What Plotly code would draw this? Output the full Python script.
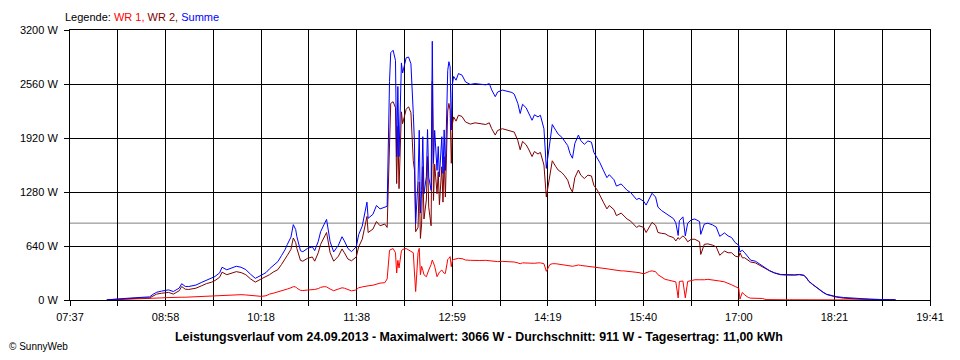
import plotly.graph_objects as go

# ---- data ----
TIMES = [
    "08:08", "08:14", "08:25", "08:31", "08:37", "08:44", "08:47", "08:50", "08:54", "08:58",
    "09:00", "09:04", "09:09", "09:11", "09:14", "09:17", "09:23", "09:28", "09:32", "09:36",
    "09:39", "09:43", "09:45", "09:49", "09:53", "09:57", "10:01", "10:05", "10:09", "10:13",
    "10:18", "10:22", "10:25", "10:28", "10:32", "10:35", "10:38", "10:40", "10:43", "10:45",
    "10:47", "10:48", "10:51", "10:53", "10:57", "11:01", "11:03", "11:06", "11:08", "11:11",
    "11:13", "11:16", "11:19", "11:23", "11:26", "11:28", "11:31", "11:34", "11:38", "11:40",
    "11:43", "11:47", "11:48", "11:52", "11:55", "11:58", "12:02", "12:04", "12:06", "12:07",
    "12:09", "12:11", "12:12", "12:13", "12:14", "12:16", "12:17", "12:20", "12:22", "12:24",
    "12:26", "12:27", "12:28", "12:30", "12:31", "12:32", "12:33", "12:34", "12:35", "12:37",
    "12:38", "12:39", "12:41", "12:42", "12:43", "12:44", "12:46", "12:47", "12:48", "12:50",
    "12:51", "12:52", "12:53", "12:55", "12:56", "12:57", "12:58", "12:59", "13:00", "13:02",
    "13:04", "13:07", "13:10", "13:14", "13:18", "13:22", "13:27", "13:30", "13:32", "13:35",
    "13:37", "13:41", "13:45", "13:49", "13:51", "13:54", "13:56", "13:58", "14:01", "14:03",
    "14:06", "14:08", "14:11", "14:13", "14:16", "14:18", "14:21", "14:23", "14:26", "14:28",
    "14:31", "14:33", "14:36", "14:38", "14:40", "14:42", "14:45", "14:47", "14:50", "14:53",
    "14:56", "14:58", "15:01", "15:03", "15:06", "15:09", "15:11", "15:15", "15:17", "15:21",
    "15:23", "15:26", "15:29", "15:31", "15:34", "15:36", "15:40", "15:42", "15:45", "15:47",
    "15:50", "15:52", "15:55", "15:58", "16:01", "16:05", "16:07", "16:09", "16:10", "16:13",
    "16:15", "16:17", "16:20", "16:23", "16:27", "16:28", "16:31", "16:34", "16:38", "16:41",
    "16:44", "16:48", "16:51", "16:54", "16:57", "17:00", "17:01", "17:03", "17:05", "17:08",
    "17:10", "17:14", "17:17", "17:20", "17:23", "17:26", "17:30", "17:35", "17:39", "17:43",
    "17:47", "17:51", "17:55", "17:57", "17:59", "18:02", "18:05", "18:08", "18:11", "18:14",
    "18:18", "18:22", "18:28", "18:34", "18:43", "18:51", "18:59", "19:12",
]

WR1 = [
    0, 3, 5, 6, 8, 12, 18, 22, 25, 28,
    30, 30, 32, 33, 33, 35, 37, 40, 42, 45,
    48, 52, 58, 58, 60, 64, 63, 60, 55, 45,
    43, 50, 70, 80, 95, 105, 115, 130, 145, 158,
    155, 140, 115, 112, 118, 120, 125, 135, 150, 158,
    155, 130, 110, 130, 145, 140, 125, 108, 120, 145,
    155, 170, 168, 175, 190, 200, 205, 250, 590, 600,
    610, 560, 320, 470, 380, 580, 600, 610, 590, 580,
    560, 320, 100, 560, 612, 300, 400, 355, 300, 276,
    320, 355, 420, 474, 440, 400, 276, 300, 330, 355,
    340, 316, 316, 480, 494, 514, 395, 474, 480, 485,
    494, 490, 474, 470, 465, 468, 470, 465, 460, 455,
    455, 458, 455, 455, 450, 440, 430, 440, 438, 435,
    430, 435, 440, 440, 430, 340, 420, 430, 430, 425,
    420, 415, 410, 405, 400, 405, 415, 410, 405, 405,
    400, 390, 385, 380, 378, 370, 365, 355, 350, 345,
    345, 340, 338, 335, 330, 325, 310, 325, 340, 345,
    335, 300, 270, 245, 235, 225, 215, 25, 220, 225,
    25, 220, 230, 240, 240, 238, 240, 245, 240, 235,
    225, 215, 200, 180, 160, 140, 10, 90, 60, 30,
    22, 20, 20, 18, 5, 3, 3, 3, 3, 3,
    3, 3, 3, 3, 3, 3, 3, 3, 3, 3,
    3, 5, 8, 8, 5, 2, 0, 0,
]

WR2 = [
    2, 8, 15, 20, 24, 25, 50, 70, 80, 85,
    90, 70, 110, 160, 128, 125, 140, 170, 195, 210,
    230, 270, 330, 300, 315, 336, 325, 300, 250, 212,
    250, 275, 300, 330, 360, 420, 480, 530, 600, 735,
    680, 610, 470, 460, 494, 510, 460, 560, 660, 740,
    800, 560, 460, 520, 605, 560, 485, 465, 510, 630,
    720, 990, 800, 840, 930, 880, 900, 860, 2000, 2330,
    2350, 2280, 1380, 2060, 1320, 2230, 2090, 2260, 2290, 2220,
    1650, 1540, 810, 860, 1400, 730, 900, 1580, 960, 1185,
    1700, 1100, 880, 2592, 1180, 1610, 1260, 1520, 1130, 1580,
    1160, 1700, 1220, 2240, 2330, 2250, 1620, 2090, 2170, 2120,
    2190, 2175, 2110, 2085, 2100, 2090, 2080, 2100, 2030, 1955,
    2010, 2030, 2015, 2005, 1990, 1890, 1780, 1880, 1840, 1790,
    1700, 1760, 1730, 1750, 1600, 1220, 1480, 1650, 1580, 1540,
    1510, 1480, 1420, 1330, 1280, 1450, 1540, 1480, 1440, 1480,
    1470, 1360, 1300, 1250, 1160, 1080, 1120, 1070, 1000, 1030,
    1000, 960, 935, 900, 860, 880, 860, 800, 870, 920,
    885, 800, 790, 785, 760, 740, 700, 740, 720, 760,
    735, 690, 720, 720, 690, 540, 660, 665, 650, 630,
    530, 580, 560, 560, 520, 510, 560, 500, 500, 470,
    450, 440, 415, 390, 370, 345, 320, 300, 296, 293,
    295, 300, 290, 260, 220, 185, 150, 120, 90, 65,
    50, 35, 22, 15, 10, 8, 6, 2,
]

SUMME = [
    2, 11, 20, 26, 32, 37, 68, 92, 105, 113,
    120, 100, 142, 193, 161, 160, 177, 210, 237, 255,
    278, 322, 388, 358, 375, 400, 388, 360, 305, 257,
    293, 325, 370, 410, 455, 525, 595, 660, 745, 893,
    835, 750, 585, 572, 612, 630, 585, 695, 810, 898,
    955, 690, 570, 650, 750, 700, 610, 573, 630, 775,
    875, 1160, 968, 1015, 1120, 1080, 1105, 1110, 2590, 2930,
    2960, 2840, 1700, 2530, 1700, 2810, 2690, 2870, 2880, 2800,
    2210, 1860, 910, 1420, 2012, 1030, 1300, 1935, 1260, 1461,
    2020, 1455, 1300, 3066, 1620, 2010, 1536, 1820, 1460, 1935,
    1500, 2016, 1536, 2720, 2824, 2764, 2015, 2564, 2650, 2605,
    2684, 2665, 2584, 2555, 2565, 2558, 2550, 2565, 2490, 2410,
    2465, 2488, 2470, 2460, 2440, 2330, 2210, 2320, 2278, 2225,
    2130, 2195, 2170, 2190, 2030, 1560, 1900, 2080, 2010, 1965,
    1930, 1895, 1830, 1735, 1680, 1855, 1955, 1890, 1845, 1885,
    1870, 1750, 1685, 1630, 1538, 1450, 1485, 1425, 1350, 1375,
    1345, 1300, 1273, 1235, 1190, 1205, 1170, 1125, 1210, 1265,
    1220, 1100, 1060, 1030, 995, 965, 915, 765, 940, 985,
    760, 910, 950, 960, 930, 778, 900, 910, 890, 865,
    755, 795, 760, 740, 680, 650, 570, 590, 560, 500,
    472, 460, 435, 408, 375, 348, 323, 303, 299, 296,
    298, 303, 293, 263, 223, 188, 153, 123, 93, 68,
    53, 40, 30, 23, 15, 10, 6, 2,
]

AVERAGE_W = 911
Y_TICKS = [0, 640, 1280, 1920, 2560, 3200]
X_TICK_LABELS = ["07:37", "08:58", "10:18", "11:38", "12:59",
                 "14:19", "15:40", "17:00", "18:21", "19:41"]
X_START = "07:37"
X_END = "19:41"
TITLE = ("Leistungsverlauf vom 24.09.2013 - Maximalwert: 3066 W - "
         "Durchschnitt: 911 W - Tagesertrag: 11,00 kWh")


def to_min(s):
    h, m = s.split(":")
    return int(h) * 60 + int(m)


x = [to_min(t) for t in TIMES]
x0, x1 = to_min(X_START), to_min(X_END)

# ticks: grid every half label interval, labels at every second one
n_half = 2 * (len(X_TICK_LABELS) - 1)
tickvals = [x0 + (x1 - x0) * k / n_half for k in range(n_half + 1)]
ticktext = []
for k in range(n_half + 1):
    ticktext.append(X_TICK_LABELS[k // 2] if k % 2 == 0 else "")

FONT = "Liberation Sans, Arial, sans-serif"

fig = go.Figure()
fig.add_trace(go.Scatter(x=x, y=WR1, mode="lines", name="WR 1",
                         line=dict(color="#FF0000", width=1)))
fig.add_trace(go.Scatter(x=x, y=WR2, mode="lines", name="WR 2",
                         line=dict(color="#800000", width=1)))
fig.add_trace(go.Scatter(x=x, y=SUMME, mode="lines", name="Summe",
                         line=dict(color="#0000FF", width=1)))

fig.add_shape(type="line", xref="paper", x0=0, x1=1, yref="y",
              y0=AVERAGE_W, y1=AVERAGE_W,
              line=dict(color="#808080", width=1), layer="below")

fig.update_xaxes(range=[x0, x1], tickmode="array", tickvals=tickvals,
                 ticktext=ticktext, showgrid=True, gridcolor="black",
                 gridwidth=1, showline=True, linecolor="black", linewidth=1,
                 mirror=True, ticks="outside", ticklen=5, tickcolor="black",
                 ticklabelstandoff=2,
                 zeroline=False, tickfont=dict(family=FONT, size=11, color="black"))
fig.update_yaxes(range=[0, 3200], tickmode="array", tickvals=Y_TICKS,
                 ticktext=[f"{v} W" for v in Y_TICKS], showgrid=True,
                 gridcolor="black", gridwidth=1, showline=True,
                 linecolor="black", linewidth=1, mirror=True,
                 ticks="outside", ticklen=5, tickcolor="black",
                 ticklabelstandoff=4,
                 zeroline=False, tickfont=dict(family=FONT, size=11, color="black"))

legend_html = ("Legende: <span style='color:#FF0000'>WR 1,</span> "
               "<span style='color:#800000'>WR 2,</span> "
               "<span style='color:#0000FF'>Summe</span>")

# page body has an 8px margin; figure sized so the whole page fits 960x360
fig.update_layout(
    width=952, height=344,
    margin=dict(l=52, r=30, t=22, b=52),
    plot_bgcolor="white", paper_bgcolor="white",
    showlegend=False,
    font=dict(family=FONT, size=11, color="black"),
    annotations=[
        dict(text=legend_html, xref="paper", yref="paper", x=-0.008, y=1.048,
             xanchor="left", yanchor="middle", showarrow=False,
             font=dict(family=FONT, size=11, color="black")),
        dict(text="<b>" + TITLE + "</b>", xref="paper", yref="paper",
             x=0.476, y=-0.137, xanchor="center", yanchor="middle",
             showarrow=False, font=dict(family=FONT, size=12.4, color="black")),
        dict(text="© SunnyWeb", xref="paper", yref="paper", x=-0.0735,
             y=-0.174, xanchor="left", yanchor="middle", showarrow=False,
             font=dict(family=FONT, size=10, color="black")),
    ],
)

fig.write_html("out.html")
